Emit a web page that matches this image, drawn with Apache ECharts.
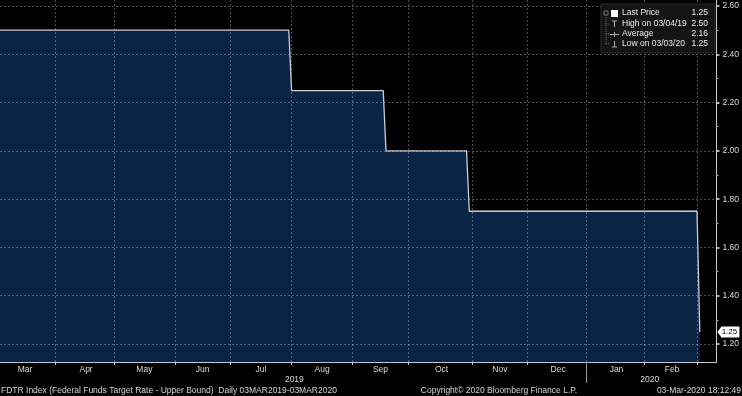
<!DOCTYPE html>
<html><head><meta charset="utf-8">
<script src="https://cdn.jsdelivr.net/npm/echarts@6/dist/echarts.min.js"></script>
<style>html,body{margin:0;padding:0;background:#000;}#c{width:742px;height:396px;}</style>
</head><body><div id="c"></div>
<script>
// ---- data ----
const startDate = '2019-03-04';
const endDate = '2020-03-11';
const holidays = ['2019-04-19','2019-05-27','2019-07-04','2019-09-02','2019-11-28','2019-12-25','2020-01-01','2020-01-20','2020-02-17'];
const stepDates = ['2019-03-04','2019-07-31','2019-08-01','2019-09-18','2019-09-19','2019-10-30','2019-10-31','2020-03-02','2020-03-03'];
const stepValues = [2.50, 2.50, 2.25, 2.25, 2.00, 2.00, 1.75, 1.75, 1.25];
const yTicks = [1.2, 1.4, 1.6, 1.8, 2.0, 2.2, 2.4, 2.6];
const yMinorTicks = [1.3, 1.5, 1.7, 1.9, 2.1, 2.3, 2.5];
const monthNames = ['Jan','Feb','Mar','Apr','May','Jun','Jul','Aug','Sep','Oct','Nov','Dec'];
const legendNames = ['Last Price', 'High on 03/04/19', 'Average', 'Low on 03/03/20'];
const legendValues = ['1.25', '2.50', '2.16', '1.25'];
const lastPrice = 1.25;
const footerLeft = 'FDTR Index (Federal Funds Target Rate - Upper Bound)  Daily 03MAR2019-03MAR2020';
const footerMid = 'Copyright\u00A9 2020 Bloomberg Finance L.P.';
const footerRight = '03-Mar-2020 18:12:49';

// ---- trading-day categories ----
const categories = [];
(function () {
  const d = new Date(startDate + 'T00:00:00Z');
  const end = new Date(endDate + 'T00:00:00Z');
  while (d <= end) {
    const s = d.toISOString().slice(0, 10);
    const wd = d.getUTCDay();
    if (wd !== 0 && wd !== 6 && holidays.indexOf(s) < 0) categories.push(s);
    d.setUTCDate(d.getUTCDate() + 1);
  }
})();
const lastIdx = categories.length - 1;
const monthStarts = [];
for (let i = 1; i < categories.length; i++) {
  if (categories[i].slice(0, 7) !== categories[i - 1].slice(0, 7)) monthStarts.push(i);
}
const monthStartSet = new Set(monthStarts);
const monthLabelSet = new Set();
{
  const segStarts = [-2].concat(monthStarts);
  for (let k = 0; k < segStarts.length - 1; k++) {
    monthLabelSet.add(Math.round((segStarts[k] + segStarts[k + 1]) / 2));
  }
}
let janIdx = categories.findIndex(c => c.startsWith('2020-01'));
const yearLabelSet = new Set([Math.round(janIdx / 2), Math.round((janIdx + lastIdx) / 2) - 1]);

const FONT = 'Liberation Sans';
const TXT = '#dadada';
const GRID_LINE = { color: 'rgba(255,255,255,0.30)', type: [2, 2], width: 1 };

const chart = echarts.init(document.getElementById('c'), null, { renderer: 'canvas' });

const legendRowsY = [13, 24, 34, 44];
const g = [];
g.push({ type: 'rect', shape: { x: 601, y: 4, width: 114, height: 49 }, style: { fill: '#141414', stroke: '#2c2c2c', lineWidth: 1 }, z: 100 });
g.push({ type: 'rect', shape: { x: 604, y: 11, width: 4, height: 4 }, style: { fill: 'none', stroke: '#777', lineWidth: 1 }, z: 101 });
g.push({ type: 'line', shape: { x1: 606, y1: 15, x2: 606, y2: 44 }, style: { stroke: '#666', lineWidth: 1, lineDash: [1, 1] }, z: 101 });
[24, 34, 44].forEach(y => g.push({ type: 'line', shape: { x1: 606, y1: y, x2: 609, y2: y }, style: { stroke: '#666', lineWidth: 1, lineDash: [1, 1] }, z: 101 }));
g.push({ type: 'rect', shape: { x: 611, y: 10, width: 7, height: 7 }, style: { fill: '#ffffff' }, z: 101 });
g.push({ type: 'line', shape: { x1: 612, y1: 21, x2: 617, y2: 21 }, style: { stroke: '#aaa', lineWidth: 1 }, z: 101 });
g.push({ type: 'line', shape: { x1: 614.5, y1: 21, x2: 614.5, y2: 27 }, style: { stroke: '#aaa', lineWidth: 1 }, z: 101 });
g.push({ type: 'line', shape: { x1: 610, y1: 34.5, x2: 619, y2: 34.5 }, style: { stroke: '#aaa', lineWidth: 1 }, z: 101 });
g.push({ type: 'line', shape: { x1: 614.5, y1: 32, x2: 614.5, y2: 37 }, style: { stroke: '#aaa', lineWidth: 1 }, z: 101 });
g.push({ type: 'line', shape: { x1: 614.5, y1: 41, x2: 614.5, y2: 47 }, style: { stroke: '#aaa', lineWidth: 1 }, z: 101 });
g.push({ type: 'line', shape: { x1: 612, y1: 47, x2: 617, y2: 47 }, style: { stroke: '#aaa', lineWidth: 1 }, z: 101 });
legendNames.forEach((n, i) => {
  g.push({ type: 'text', x: 622, y: legendRowsY[i], style: { text: n, fill: '#ececec', font: '8.5px ' + FONT, textAlign: 'left', textVerticalAlign: 'middle' }, z: 101 });
  g.push({ type: 'text', x: 708, y: legendRowsY[i], style: { text: legendValues[i], fill: '#ececec', font: '8.5px ' + FONT, textAlign: 'right', textVerticalAlign: 'middle' }, z: 101 });
});
g.push({ type: 'text', x: 1, y: 391, style: { text: footerLeft, fill: '#d4d4d4', font: '8.5px ' + FONT, textAlign: 'left', textVerticalAlign: 'middle' } });
g.push({ type: 'text', x: 499, y: 391, style: { text: footerMid, fill: '#d4d4d4', font: '8.5px ' + FONT, textAlign: 'center', textVerticalAlign: 'middle' } });
g.push({ type: 'text', x: 741, y: 391, style: { text: footerRight, fill: '#d4d4d4', font: '8.5px ' + FONT, textAlign: 'right', textVerticalAlign: 'middle' } });

const seriesData = stepDates.map((d, i) => [d, stepValues[i]]);

chart.setOption({
  backgroundColor: '#000000',
  animation: false,
  grid: { left: 0, right: 24, top: 0, bottom: 34, containLabel: false },
  xAxis: [{
    type: 'category', data: categories, boundaryGap: false, position: 'bottom', z: 3,
    axisLine: { show: true, lineStyle: { color: '#c8c8c8', width: 1 } },
    axisTick: { show: true, interval: (i) => monthStartSet.has(i), length: 3, lineStyle: { color: '#c8c8c8' } },
    axisLabel: { show: true, interval: (i) => monthLabelSet.has(i), formatter: v => monthNames[+v.slice(5, 7) - 1], color: TXT, fontFamily: FONT, fontSize: 8.5, margin: 3 },
    splitLine: { show: true, interval: (i) => monthStartSet.has(i), lineStyle: GRID_LINE }
  }, {
    type: 'category', data: categories, boundaryGap: false, position: 'bottom', z: 3,
    axisLine: { show: false },
    axisTick: { show: true, interval: (i) => i === janIdx, length: 21, lineStyle: { color: '#9a9a9a' } },
    axisLabel: { show: true, interval: (i) => yearLabelSet.has(i), formatter: v => v.slice(0, 4), color: TXT, fontFamily: FONT, fontSize: 8.5, margin: 13 },
    splitLine: { show: false }
  }],
  yAxis: [{
    type: 'value', position: 'right', min: 1.1255, max: 2.625, z: 3,
    axisLine: { show: true, lineStyle: { color: '#c8c8c8', width: 1 } },
    axisTick: { show: true, customValues: yTicks, length: 3, lineStyle: { color: '#e6e6e6', width: 1.5 } },
    axisLabel: { show: true, customValues: yTicks, formatter: v => v.toFixed(2), color: TXT, fontFamily: FONT, fontSize: 8.5, margin: 6 },
    splitLine: { show: true, lineStyle: GRID_LINE }
  }, {
    type: 'value', position: 'right', min: 1.1255, max: 2.625, z: 3,
    axisLine: { show: false },
    axisTick: { show: true, customValues: yMinorTicks, length: 2, lineStyle: { color: '#aaaaaa' } },
    axisLabel: { show: false },
    splitLine: { show: false }
  }],
  series: [{
    type: 'line', xAxisIndex: 0, yAxisIndex: 0, z: 1,
    data: seriesData,
    symbol: 'none',
    lineStyle: { width: 0, opacity: 0 },
    areaStyle: { color: '#0a2446', opacity: 1, origin: 'start' }
  }, {
    type: 'line', xAxisIndex: 0, yAxisIndex: 0, z: 5,
    data: seriesData,
    symbol: 'none',
    lineStyle: { color: '#c9d0d8', width: 1.3 },
    markPoint: {
      symbol: 'path://M0,5 L4,0 L22,0 L22,10 L4,10 Z',
      symbolSize: [22, 11], symbolOffset: [12, 0],
      itemStyle: { color: '#ffffff' },
      label: { show: true, position: 'inside', offset: [1, 0], formatter: () => lastPrice.toFixed(2), color: '#000', fontFamily: FONT, fontSize: 8 },
      data: [{ coord: [categories[lastIdx], lastPrice] }]
    }
  }],
  graphic: g
});
</script></body></html>
